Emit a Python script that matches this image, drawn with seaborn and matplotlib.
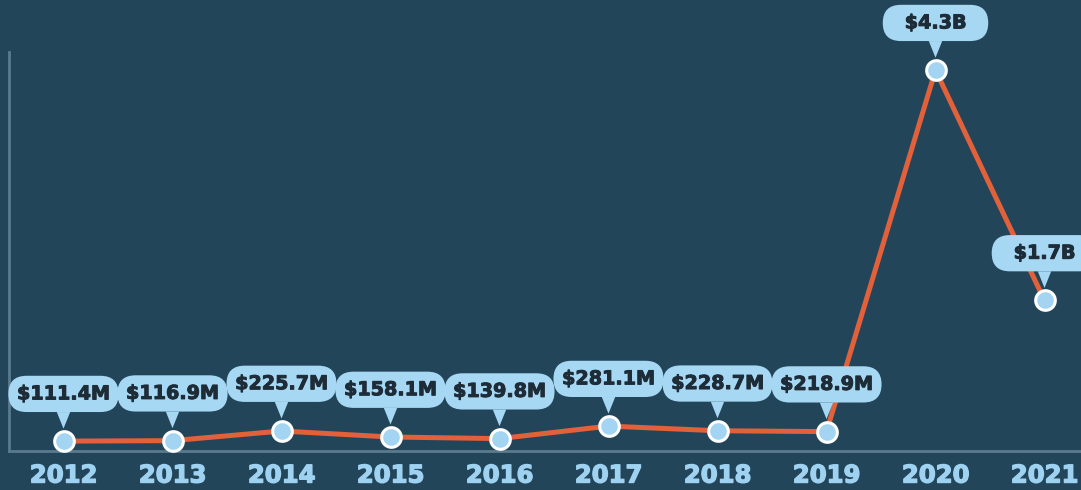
import matplotlib
matplotlib.use("Agg")
import matplotlib.pyplot as plt
import matplotlib.patheffects as pe
import seaborn as sns
import pandas as pd

years = [2012, 2013, 2014, 2015, 2016, 2017, 2018, 2019, 2020, 2021]
values_b = [0.1114, 0.1169, 0.2257, 0.1581, 0.1398, 0.2811, 0.2287, 0.2189, 4.3, 1.7]
labels = ["$111.4M", "$116.9M", "$225.7M", "$158.1M", "$139.8M", "$281.1M",
          "$228.7M", "$218.9M", "$4.3B", "$1.7B"]

BG = "#23455a"
LINE = "#e2603a"
BUBBLE = "#a6d8f4"
MARK = "#a3d4f2"
TEXT_DARK = "#1e2c38"
YEAR = "#9fd2f0"
SPINE = "#5b7a8e"

sns.set_theme(style="white")
plt.rcParams["font.family"] = ["DejaVu Sans"]

df = pd.DataFrame({"year": years, "value": values_b})

fig = plt.figure(figsize=(10.81, 4.90), dpi=100, facecolor=BG)
ax = fig.add_axes([9 / 1081, 39 / 490, 1090 / 1081, 399 / 490])
ax.set_facecolor(BG)

sns.lineplot(data=df, x="year", y="value", ax=ax, color=LINE, linewidth=3.6,
             zorder=2, clip_on=False)
sns.scatterplot(data=df, x="year", y="value", ax=ax, color=MARK, s=200,
                edgecolor="white", linewidth=2.2, zorder=3, clip_on=False)

for x, y, lab in zip(years, values_b, labels):
    shown = lab if len(lab) > 5 else "  " + lab + "  "
    t = ax.annotate(shown, xy=(x, y), xytext=(0, 34), textcoords="offset points",
                    ha="center", va="center", fontsize=13.8, fontweight="bold",
                    color=TEXT_DARK, zorder=5, annotation_clip=False,
                    bbox=dict(boxstyle="round,pad=0.45,rounding_size=0.95",
                              fc=BUBBLE, ec="none"),
                    arrowprops=dict(arrowstyle="wedge,tail_width=0.7,shrink_factor=0.5",
                                    fc=BUBBLE, ec="none", shrinkA=0, shrinkB=9))
    t.set_path_effects([pe.withStroke(linewidth=0.7, foreground=TEXT_DARK)])

ax.set_xlim(2011.5, 2021.5)
ax.set_ylim(0, 4.505)
ax.set_xticks(years)
ax.set_xticklabels([str(y) for y in years], fontsize=17.5, fontweight="bold",
                   color=YEAR)
for lbl in ax.get_xticklabels():
    lbl.set_path_effects([pe.withStroke(linewidth=1.0, foreground=YEAR)])
ax.set_yticks([])
ax.tick_params(axis="x", length=0, pad=9)
ax.set_xlabel("")
ax.set_ylabel("")

for side in ["top", "right"]:
    ax.spines[side].set_visible(False)
for side in ["left", "bottom"]:
    ax.spines[side].set_color(SPINE)
    ax.spines[side].set_linewidth(2)

fig.savefig("out.png", dpi=100, facecolor=BG)
